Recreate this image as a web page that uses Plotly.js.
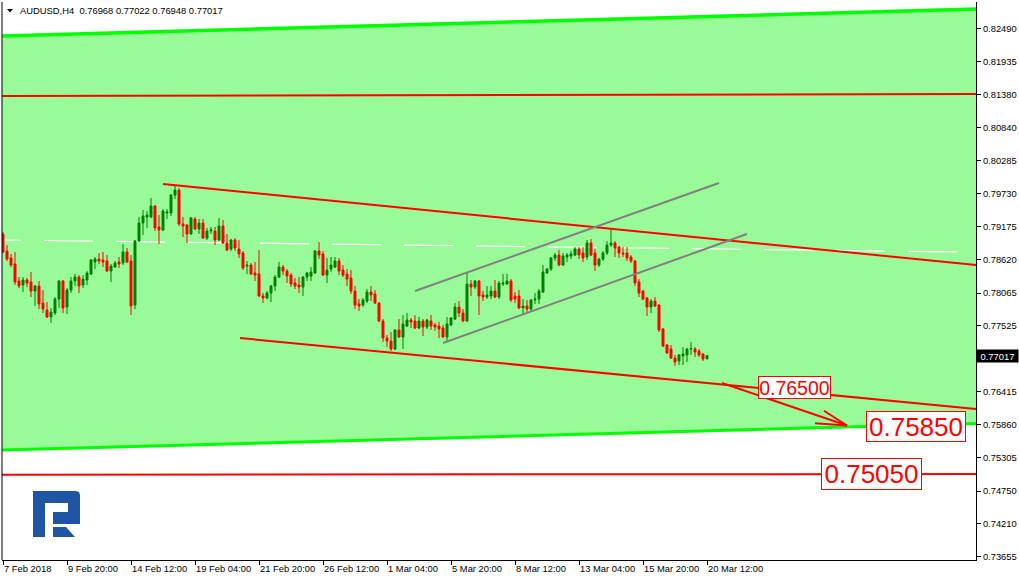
<!DOCTYPE html>
<html><head><meta charset="utf-8">
<script src="https://cdn.plot.ly/plotly-3.0.1.min.js"></script>
<style>html,body{margin:0;padding:0;background:#fff;}#chart{width:1019px;height:581px;}</style>
</head><body><div id="chart"></div>
<script>
// ---------- data ----------
const symbol = 'AUDUSD,H4';
const open = [0.79053,0.78768,0.78651,0.78551,0.78266,0.78199,0.78283,0.78250,0.78098,0.78183,
0.77898,0.77781,0.77664,0.77731,0.77965,0.78266,0.77831,0.78115,0.78266,0.78333,
0.78199,0.78283,0.78383,0.78584,0.78634,0.78618,0.78601,0.78433,0.78501,0.78584,
0.78567,0.78752,0.78601,0.77864,0.78935,0.79237,0.79337,0.79337,0.79521,0.79170,
0.79120,0.79404,0.79404,0.79705,0.79788,0.79220,0.79203,0.79053,0.79304,0.79137,
0.79237,0.78986,0.79103,0.79103,0.78952,0.79186,0.78902,0.78802,0.78952,0.78802,
0.78735,0.78517,0.78534,0.78400,0.78383,0.78015,0.77982,0.78065,0.78183,0.78333,
0.78501,0.78433,0.78366,0.78233,0.78199,0.78166,0.78333,0.78350,0.78400,0.78768,
0.78718,0.78366,0.78467,0.78501,0.78601,0.78450,0.78383,0.78316,0.78098,0.77881,
0.77864,0.77931,0.78082,0.78048,0.77898,0.77597,0.77312,0.77262,0.77128,0.77446,
0.77329,0.77513,0.77614,0.77597,0.77480,0.77597,0.77496,0.77597,0.77530,0.77513,
0.77480,0.77329,0.77530,0.77630,0.77831,0.77731,0.77597,0.78216,0.78166,0.78266,
0.78032,0.77998,0.78015,0.78098,0.77998,0.78216,0.78216,0.78266,0.78015,0.78015,
0.77814,0.77848,0.77797,0.77948,0.77965,0.78082,0.78400,0.78467,0.78651,0.78701,
0.78534,0.78668,0.78684,0.78701,0.78802,0.78735,0.78668,0.78902,0.78735,0.78534,
0.78634,0.78735,0.78868,0.78902,0.78835,0.78735,0.78735,0.78668,0.78601,0.78250,
0.78098,0.77982,0.77831,0.77931,0.77864,0.77463,0.77195,0.77128,0.76977,0.76927,
0.77011,0.77028,0.77128,0.77128,0.77095,0.77044,0.76968];
const high = [0.79087,0.78868,0.78718,0.78752,0.78333,0.78333,0.78316,0.78417,0.78199,0.78266,
0.78115,0.77915,0.77814,0.77998,0.78283,0.78283,0.78149,0.78333,0.78383,0.78366,
0.78366,0.78433,0.78634,0.78668,0.78735,0.78752,0.78701,0.78551,0.78601,0.78668,
0.78885,0.78819,0.78701,0.78952,0.79337,0.79454,0.79437,0.79655,0.79538,0.79371,
0.79471,0.79471,0.79722,0.79872,0.79822,0.79337,0.79220,0.79337,0.79337,0.79304,
0.79304,0.79154,0.79170,0.79170,0.79320,0.79287,0.79053,0.78969,0.78986,0.78952,
0.78768,0.78601,0.78567,0.78584,0.78785,0.78065,0.78098,0.78199,0.78366,0.78584,
0.78534,0.78467,0.78400,0.78316,0.78333,0.78350,0.78417,0.78501,0.78785,0.78919,
0.78768,0.78651,0.78668,0.78668,0.78651,0.78534,0.78467,0.78450,0.78183,0.77965,
0.77982,0.78132,0.78183,0.78115,0.77915,0.77630,0.77363,0.77413,0.77463,0.77630,
0.77697,0.77731,0.77647,0.77697,0.77664,0.77630,0.77630,0.77697,0.77564,0.77580,
0.77530,0.77664,0.77664,0.77898,0.77931,0.77797,0.78400,0.78283,0.78283,0.78283,
0.78098,0.78183,0.78183,0.78283,0.78266,0.78383,0.78383,0.78299,0.78082,0.78115,
0.77965,0.77948,0.77965,0.78065,0.78132,0.78534,0.78484,0.78668,0.78735,0.78785,
0.78735,0.78735,0.78768,0.78835,0.78835,0.78835,0.78952,0.78969,0.78802,0.78651,
0.78768,0.78935,0.79154,0.78935,0.78852,0.78835,0.78835,0.78701,0.78618,0.78299,
0.78115,0.77998,0.77965,0.77998,0.77881,0.77480,0.77212,0.77195,0.77028,0.77044,
0.77161,0.77145,0.77245,0.77161,0.77128,0.77061,0.77022];
const low = [0.78735,0.78601,0.78501,0.78199,0.78149,0.78082,0.78166,0.77998,0.77848,0.77797,
0.77731,0.77647,0.77564,0.77697,0.77814,0.77731,0.77714,0.78065,0.78183,0.78065,
0.78149,0.78199,0.78366,0.78467,0.78551,0.78501,0.78417,0.78250,0.78484,0.78484,
0.78534,0.78567,0.77697,0.77797,0.78919,0.79036,0.79154,0.79320,0.79103,0.78885,
0.79103,0.79304,0.79354,0.79638,0.79186,0.79002,0.78902,0.79036,0.79120,0.79053,
0.78969,0.78952,0.79053,0.78868,0.78935,0.78885,0.78768,0.78768,0.78768,0.78651,
0.78450,0.78383,0.78366,0.78266,0.77998,0.77898,0.77965,0.77915,0.78098,0.78316,
0.78366,0.78233,0.78166,0.78132,0.78065,0.78015,0.78266,0.78266,0.78383,0.78634,
0.78350,0.78233,0.78417,0.78484,0.78366,0.78333,0.78183,0.78048,0.77797,0.77764,
0.77831,0.77898,0.77931,0.77881,0.77580,0.77245,0.77161,0.77095,0.77111,0.77312,
0.77128,0.77496,0.77480,0.77463,0.77463,0.77346,0.77463,0.77446,0.77430,0.77312,
0.77312,0.77245,0.77513,0.77614,0.77664,0.77580,0.77580,0.78015,0.78132,0.77697,
0.77931,0.77965,0.77965,0.77982,0.77965,0.78183,0.78199,0.77915,0.77898,0.77797,
0.77714,0.77731,0.77764,0.77881,0.77881,0.78065,0.78383,0.78433,0.78601,0.78517,
0.78517,0.78584,0.78634,0.78684,0.78634,0.78584,0.78618,0.78684,0.78433,0.78501,
0.78601,0.78701,0.78835,0.78668,0.78651,0.78668,0.78601,0.78567,0.78183,0.77998,
0.77948,0.77681,0.77731,0.77831,0.77413,0.77161,0.77044,0.76961,0.76844,0.76860,
0.76860,0.76910,0.77028,0.76994,0.76994,0.76927,0.76948];
const close = [0.78752,0.78634,0.78534,0.78250,0.78183,0.78283,0.78233,0.78098,0.78183,0.77881,
0.77797,0.77664,0.77747,0.77965,0.78266,0.77814,0.78115,0.78266,0.78333,0.78183,
0.78299,0.78400,0.78618,0.78634,0.78601,0.78584,0.78433,0.78517,0.78567,0.78551,
0.78752,0.78584,0.77848,0.78935,0.79237,0.79354,0.79371,0.79521,0.79154,0.79120,
0.79437,0.79421,0.79705,0.79788,0.79220,0.79186,0.79053,0.79320,0.79137,0.79237,
0.78986,0.79103,0.79120,0.78952,0.79186,0.78902,0.78785,0.78952,0.78819,0.78718,
0.78484,0.78534,0.78383,0.78366,0.78015,0.77982,0.78065,0.78183,0.78333,0.78501,
0.78433,0.78350,0.78216,0.78183,0.78166,0.78333,0.78400,0.78417,0.78768,0.78701,
0.78366,0.78450,0.78534,0.78601,0.78433,0.78366,0.78299,0.78098,0.77864,0.77848,
0.77948,0.78082,0.78032,0.77898,0.77597,0.77312,0.77262,0.77128,0.77446,0.77329,
0.77547,0.77614,0.77580,0.77480,0.77597,0.77496,0.77614,0.77513,0.77496,0.77463,
0.77329,0.77547,0.77647,0.77831,0.77731,0.77597,0.78216,0.78166,0.78266,0.78015,
0.77998,0.78032,0.78098,0.77998,0.78233,0.78233,0.78266,0.77948,0.77965,0.77814,
0.77848,0.77797,0.77948,0.77965,0.78098,0.78417,0.78467,0.78651,0.78701,0.78534,
0.78684,0.78701,0.78718,0.78802,0.78701,0.78651,0.78902,0.78701,0.78534,0.78634,
0.78735,0.78868,0.78902,0.78819,0.78735,0.78718,0.78651,0.78601,0.78233,0.78065,
0.77965,0.77831,0.77931,0.77848,0.77446,0.77178,0.77061,0.76977,0.76910,0.77028,
0.77044,0.77128,0.77136,0.77078,0.77028,0.76961,0.77017];

const xTickLabels = ['7 Feb 2018','9 Feb 20:00','14 Feb 12:00','19 Feb 04:00','21 Feb 20:00','26 Feb 12:00',
  '1 Mar 04:00','5 Mar 20:00','8 Mar 12:00','13 Mar 04:00','15 Mar 20:00','20 Mar 12:00'];
const barsPerLabel = 16;
const yTickValues = [0.82490,0.81935,0.81380,0.80840,0.80285,0.79730,0.79175,0.78620,0.78065,
  0.77525,0.76415,0.75860,0.75305,0.74750,0.74210,0.73655];

// analyst drawings: [bar index, price] end points
const channelTop    = [[-0.25, 0.82366], [243.25, 0.82818]];
const channelBottom = [[-0.25, 0.75437], [243.25, 0.75881]];
const levelHigh     = [[-0.25, 0.81362], [243.25, 0.81396]];
const levelLow      = [[-0.25, 0.75024], [243.25, 0.75036]];
const downTop       = [[40, 0.79890], [243.25, 0.78534]];
const downBottom    = [[59.25, 0.77312], [243.25, 0.76124]];
const upTop         = [[103, 0.78099], [179, 0.79906]];
const upBottom      = [[110, 0.77228], [186, 0.79053]];
const dashedLevel   = [[-7.75, 0.78959], [240.5, 0.78751]];
const arrowMain     = [[179.75, 0.76559], [211, 0.75848]];
const arrowHead1    = [[203, 0.75884], [211, 0.75848]];
const arrowHead2    = [[205.25, 0.76095], [211, 0.75848]];
const targetLabels  = [
  {text: '0.76500', bar: 197.9, price: 0.76484, size: 19.5, w: 73, h: 23},
  {text: '0.75850', bar: 228.25, price: 0.75831, size: 26, w: 100, h: 31},
  {text: '0.75050', bar: 217.1, price: 0.75036, size: 26, w: 101, h: 32}
];

// ---------- build ----------
const N = open.length;
const idx = open.map((_, i) => i);
const last = N - 1;
const lastPrice = close[last];
const f5 = v => v.toFixed(5);

const W = 1019, H = 581, mL = 2, mR = 43, mT = 2, mB = 21;
const pw = W - mL - mR, ph = H - mT - mB;
const px = (x) => (x - mL) / pw;
const py = (y) => (H - mB - y) / ph;
const pixPath = (pts) => 'M' + pts.map(p => px(p[0]).toFixed(5) + ',' + py(p[1]).toFixed(5)).join(' L') + ' Z';

function seg(a, color, width, layer, dash) {
  return {type: 'line', xref: 'x', yref: 'y', x0: a[0][0], y0: a[0][1], x1: a[1][0], y1: a[1][1],
    line: {color: color, width: width, dash: dash || 'solid'}, layer: layer || 'above'};
}

const shapes = [
  {type: 'path', xref: 'x', yref: 'y', layer: 'below', fillcolor: '#98FB98', line: {width: 0},
   path: `M${channelTop[0][0]},${channelTop[0][1]} L${channelTop[1][0]},${channelTop[1][1]} L${channelBottom[1][0]},${channelBottom[1][1]} L${channelBottom[0][0]},${channelBottom[0][1]} Z`},
  seg(dashedLevel, '#FFFFFF', 1.2, 'below', '49px,23px'),
  {type: 'line', xref: 'paper', yref: 'y', x0: 0, x1: 1, y0: lastPrice, y1: lastPrice,
   line: {color: '#C8C0C8', width: 1}, layer: 'below'},
  seg(channelTop, '#00FF00', 3.5),
  seg(channelBottom, '#00FF00', 3),
  seg(levelHigh, '#FF0000', 2),
  seg(levelLow, '#FF0000', 2),
  seg(downTop, '#FF0000', 2),
  seg(downBottom, '#FF0000', 2),
  seg(upTop, '#808080', 2),
  seg(upBottom, '#808080', 2),
  seg(arrowMain, '#FF0000', 2),
  seg(arrowHead1, '#FF0000', 2),
  seg(arrowHead2, '#FF0000', 2),
  {type: 'line', xref: 'paper', yref: 'paper', x0: 0, x1: 0, y0: 0, y1: 1, line: {color: '#000', width: 1}},
  // header triangle
  {type: 'path', xref: 'paper', yref: 'paper', fillcolor: '#000', line: {width: 0},
   path: pixPath([[7, 9], [13, 9], [10, 12.5]])},
  // logo
  {type: 'path', xref: 'paper', yref: 'paper', fillcolor: '#1F56A4', line: {width: 0},
   path: pixPath([[33, 491], [76, 491], [79, 492], [80, 495], [80, 524], [53, 524], [53, 512], [68, 512], [68, 503], [45, 503], [45, 537], [33, 537]])},
  {type: 'path', xref: 'paper', yref: 'paper', fillcolor: '#1F56A4', line: {width: 0},
   path: pixPath([[53, 527], [66, 527], [75, 537], [53, 537]])}
];

const annotations = [
  {xref: 'paper', yref: 'paper', x: px(18), y: py(11), xanchor: 'left', yanchor: 'middle', showarrow: false,
   text: symbol + '\u00a0\u00a0' + [open[last], high[last], low[last], close[last]].map(f5).join('\u00a0'),
   font: {family: 'Liberation Sans, Arial, sans-serif', size: 9.4, color: '#000'}},
  {xref: 'paper', yref: 'y', x: 1, y: lastPrice, xanchor: 'left', yanchor: 'middle', showarrow: false,
   text: f5(lastPrice), bgcolor: '#000', width: 41, height: 12, borderpad: 0,
   font: {family: 'Liberation Sans, Arial, sans-serif', size: 9.4, color: '#fff'}}
].concat(targetLabels.map(l => ({
  xref: 'x', yref: 'y', x: l.bar, y: l.price, xanchor: 'center', yanchor: 'middle', showarrow: false,
  text: l.text, bgcolor: '#fff', bordercolor: '#FF0000', borderwidth: 1, borderpad: 0, width: l.w - 2, height: l.h - 2,
  font: {family: 'Liberation Sans, Arial, sans-serif', size: l.size, color: '#FF0000'}
})));

const trace = {
  type: 'candlestick', x: idx, open: open, high: high, low: low, close: close,
  increasing: {line: {color: '#008000', width: 1}, fillcolor: '#008000'},
  decreasing: {line: {color: '#FF0000', width: 1}, fillcolor: '#FF0000'},
  whiskerwidth: 0, hoverinfo: 'skip', showlegend: false
};

const tickFont = {family: 'Liberation Sans, Arial, sans-serif', size: 9.4, color: '#000'};
const layout = {
  width: W, height: H, margin: {l: mL, r: mR, t: mT, b: mB, pad: 0},
  paper_bgcolor: '#fff', plot_bgcolor: '#fff', showlegend: false,
  xaxis: {range: [-0.25, 243.25], showgrid: false, zeroline: false, showline: true, linecolor: '#000', linewidth: 1,
    ticks: 'outside', ticklen: 4, tickcolor: '#000', tickwidth: 1, tickangle: 0,
    tickvals: xTickLabels.map((_, k) => k * barsPerLabel), ticktext: xTickLabels,
    ticklabelposition: 'outside right', tickfont: tickFont, rangeslider: {visible: false}, fixedrange: true},
  yaxis: {range: [0.73597, 0.82936], side: 'right', showgrid: false, zeroline: false, showline: true,
    linecolor: '#000', linewidth: 1, ticks: 'outside', ticklen: 4, tickcolor: '#000', tickwidth: 1,
    tickvals: yTickValues, ticktext: yTickValues.map(f5), tickfont: tickFont, fixedrange: true},
  shapes: shapes, annotations: annotations
};

Plotly.newPlot('chart', [trace], layout, {displayModeBar: false, staticPlot: true});
</script></body></html>
